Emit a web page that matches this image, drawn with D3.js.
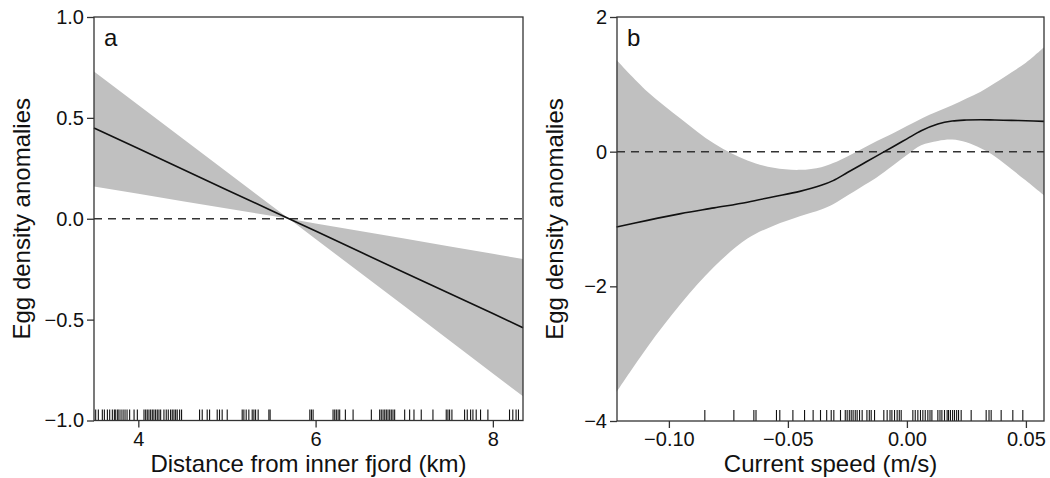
<!DOCTYPE html>
<html>
<head>
<meta charset="utf-8">
<style>
  body { margin: 0; background: #fff; }
  text { font-family: "Liberation Sans", Arial, sans-serif; fill: #111; }
</style>
</head>
<body>
<svg id="chart" width="1050" height="478"></svg>
<script src="https://cdn.jsdelivr.net/npm/d3@7/dist/d3.min.js"></script>
<script>
// panel a: distance from inner fjord (km)
const distX = [3.5, 4.0, 4.5, 5.0, 5.5, 5.7, 6.0, 6.5, 7.0, 7.5, 8.0, 8.34]
const distFit = [0.450, 0.348, 0.245, 0.143, 0.041, 0.000, -0.061, -0.164, -0.266, -0.368, -0.470, -0.540]
const distUpper = [0.730, 0.564, 0.398, 0.232, 0.066, 0.000, -0.023, -0.061, -0.098, -0.136, -0.174, -0.200]
const distLower = [0.160, 0.124, 0.087, 0.051, 0.015, 0.000, -0.100, -0.267, -0.433, -0.600, -0.767, -0.880]
const distRug = [3.519, 3.549, 3.594, 3.617, 3.651, 3.677, 3.707, 3.730, 3.745, 3.767, 3.782, 3.805,
  3.828, 3.850, 3.873, 3.902, 3.952, 3.989, 4.064, 4.083, 4.101, 4.120, 4.139, 4.158, 4.176, 4.195,
  4.214, 4.233, 4.252, 4.289, 4.315, 4.338, 4.364, 4.383, 4.402, 4.421, 4.439, 4.466, 4.488, 4.691,
  4.721, 4.777, 4.804, 4.890, 4.916, 4.946, 5.003, 5.172, 5.191, 5.217, 5.247, 5.285, 5.304, 5.323,
  5.352, 5.473, 5.487, 5.935, 5.953, 5.972, 6.197, 6.216, 6.234, 6.254, 6.272, 6.336, 6.423, 6.629,
  6.723, 6.741, 6.761, 6.780, 6.798, 6.817, 6.836, 6.854, 6.873, 6.892, 7.005, 7.061, 7.110, 7.192,
  7.324, 7.474, 7.493, 7.512, 7.538, 7.681, 7.711, 7.749, 7.775, 7.812, 7.861, 7.944, 8.188, 8.225,
  8.262, 8.289]
const distTicksX = [4, 6, 8]
const distTicksY = [1.0, 0.5, 0.0, -0.5, -1.0]

// panel b: current speed (m/s)
const speedX = [-0.122, -0.109, -0.095, -0.081, -0.067, -0.056, -0.045, -0.036, -0.031, -0.025, -0.019,
  -0.013, -0.006, 0.000, 0.006, 0.013, 0.019, 0.025, 0.031, 0.037, 0.044, 0.050, 0.0576]
const speedFit = [-1.12, -1.02, -0.92, -0.835, -0.75, -0.67, -0.59, -0.50, -0.43, -0.31, -0.19,
  -0.07, 0.07, 0.19, 0.31, 0.41, 0.455, 0.47, 0.475, 0.47, 0.465, 0.46, 0.45]
const speedUpper = [1.36, 0.89, 0.49, 0.12, -0.13, -0.24, -0.27, -0.23, -0.17, -0.07, 0.04,
  0.15, 0.27, 0.38, 0.49, 0.60, 0.69, 0.79, 0.89, 1.02, 1.18, 1.32, 1.55]
const speedLower = [-3.57, -2.90, -2.26, -1.71, -1.29, -1.10, -0.96, -0.86, -0.78, -0.65, -0.52,
  -0.39, -0.21, -0.05, 0.095, 0.16, 0.18, 0.14, 0.05, -0.07, -0.26, -0.43, -0.65]
const speedRug = [-0.0849, -0.0727, -0.0643, -0.0634, -0.0548, -0.0534, -0.0479, -0.0430, -0.0394,
  -0.0363, -0.0337, -0.0318, -0.0307, -0.0279, -0.0259, -0.0251, -0.0242, -0.0234, -0.0226, -0.0217,
  -0.0209, -0.0199, -0.0188, -0.0168, -0.0158, -0.0150, -0.0136, -0.0097, -0.0083, -0.0071, -0.0063,
  -0.0052, -0.0041, -0.0032, -0.0024, 0.0025, 0.0035, 0.0046, 0.0057, 0.0067, 0.0077, 0.0088, 0.0097,
  0.0105, 0.0130, 0.0139, 0.0147, 0.0158, 0.0169, 0.0175, 0.0183, 0.0192, 0.0200, 0.0209, 0.0217,
  0.0228, 0.0270, 0.0333, 0.0345, 0.0354, 0.0396, 0.0445, 0.0487]
const speedTicksX = [-0.10, -0.05, 0.00, 0.05]
const speedTicksY = [2, 0, -2, -4]

let svg = d3.select("#chart")

function drawPanel(opt) {
    let x = d3.scaleLinear().domain(opt.xDomain).range([opt.left, opt.right])
    let y = d3.scaleLinear().domain(opt.yDomain).range([opt.bottom, opt.top])
    let g = svg.append("g")

    let rows = opt.xs.map((v, i) => ({ x: v, fit: opt.fit[i], lo: opt.lower[i], hi: opt.upper[i] }))

    // confidence band
    let area = d3.area()
        .x(d => x(d.x))
        .y0(d => y(d.lo))
        .y1(d => y(d.hi))
        .curve(opt.curve)
    g.append("path").datum(rows)
        .attr("d", area)
        .attr("fill", "#c0c0c0")

    // zero line
    g.append("line")
        .attr("x1", opt.left).attr("x2", opt.right)
        .attr("y1", y(0)).attr("y2", y(0))
        .attr("stroke", "#333").attr("stroke-width", 1.5)
        .attr("stroke-dasharray", "8,6")

    // fitted smooth
    let line = d3.line()
        .x(d => x(d.x))
        .y(d => y(d.fit))
        .curve(opt.curve)
    g.append("path").datum(rows)
        .attr("d", line)
        .attr("fill", "none")
        .attr("stroke", "#111")
        .attr("stroke-width", 1.6)

    // rug
    g.selectAll(".rug").data(opt.rug)
        .enter().append("line")
        .attr("x1", d => x(d)).attr("x2", d => x(d))
        .attr("y1", opt.bottom).attr("y2", opt.bottom - 11)
        .attr("stroke", "#111").attr("stroke-width", 1.1)

    // box
    g.append("rect")
        .attr("x", opt.left).attr("y", opt.top)
        .attr("width", opt.right - opt.left).attr("height", opt.bottom - opt.top)
        .attr("fill", "none").attr("stroke", "#333").attr("stroke-width", 1.3)

    // axes
    let xAxis = g.append("g")
        .attr("transform", `translate(0,${opt.bottom})`)
        .call(d3.axisBottom(x).tickValues(opt.xTicks).tickFormat(d3.format(opt.xFmt)).tickSize(7).tickPadding(4))
    let yAxis = g.append("g")
        .attr("transform", `translate(${opt.left},0)`)
        .call(d3.axisLeft(y).tickValues(opt.yTicks).tickFormat(d3.format(opt.yFmt)).tickSize(7).tickPadding(3))
    for (let a of [xAxis, yAxis]) {
        a.select(".domain").remove()
        a.selectAll(".tick line").attr("stroke", "#333").attr("stroke-width", 1.3)
        a.selectAll(".tick text")
            .attr("font-size", 20)
            .attr("font-family", "'Liberation Sans', Arial, sans-serif")
            .attr("fill", "#111")
    }

    // titles
    g.append("text")
        .attr("x", (opt.left + opt.right) / 2).attr("y", 472)
        .attr("text-anchor", "middle").attr("font-size", 24)
        .text(opt.xTitle)
    g.append("text")
        .attr("transform", `translate(${opt.yTitleX},${(opt.top + opt.bottom) / 2}) rotate(-90)`)
        .attr("text-anchor", "middle").attr("font-size", 24)
        .text("Egg density anomalies")
    g.append("text")
        .attr("x", opt.left + 10).attr("y", opt.top + 29)
        .attr("font-size", 24)
        .text(opt.label)
}

drawPanel({
    xs: distX, fit: distFit, upper: distUpper, lower: distLower, rug: distRug,
    xDomain: [3.5, 8.34], yDomain: [-1, 1], curve: d3.curveLinear,
    left: 94, right: 523, top: 17, bottom: 420.5,
    xTicks: distTicksX, yTicks: distTicksY, xFmt: "d", yFmt: ".1f",
    xTitle: "Distance from inner fjord (km)", yTitleX: 30, label: "a"
})

drawPanel({
    xs: speedX, fit: speedFit, upper: speedUpper, lower: speedLower, rug: speedRug,
    xDomain: [-0.1218, 0.0576], yDomain: [-4, 2], curve: d3.curveCatmullRom.alpha(0.5),
    left: 617, right: 1044, top: 17, bottom: 421,
    xTicks: speedTicksX, yTicks: speedTicksY, xFmt: ".2f", yFmt: "d",
    xTitle: "Current speed (m/s)", yTitleX: 563, label: "b"
})
</script>
</body>
</html>
